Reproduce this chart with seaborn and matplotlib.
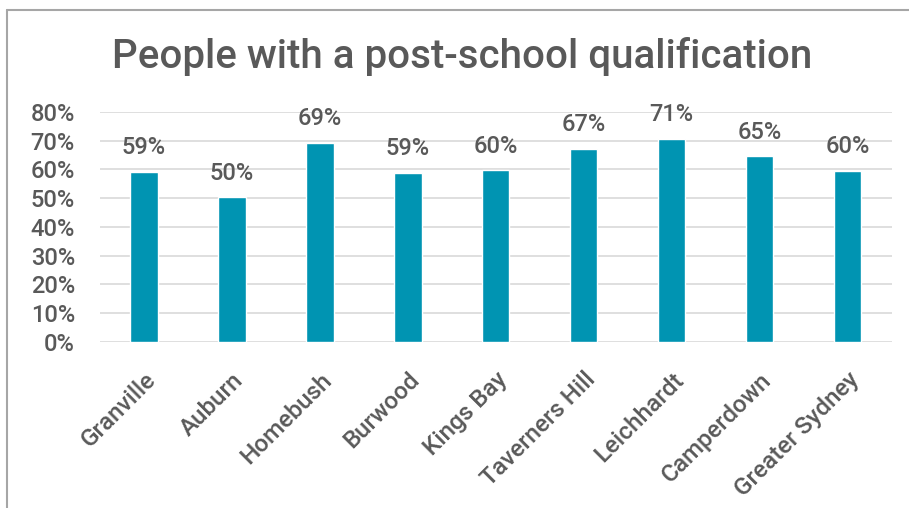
import matplotlib
matplotlib.use("Agg")
import matplotlib.pyplot as plt
from matplotlib.lines import Line2D
import seaborn as sns
import pandas as pd

# data
suburbs = ["Granville", "Auburn", "Homebush", "Burwood", "Kings Bay",
           "Taverners Hill", "Leichhardt", "Camperdown", "Greater Sydney"]
share = [0.592, 0.503, 0.692, 0.588, 0.596, 0.671, 0.706, 0.646, 0.595]

TEXT = "#595959"
BAR = "#0094B2"

sns.set_theme(style="white")
plt.rcParams["font.family"] = ["Roboto", "DejaVu Sans"]
plt.rcParams["font.weight"] = 500

df = pd.DataFrame({"suburb": suburbs, "share": share})

fig = plt.figure(figsize=(9.09, 5.08), dpi=100)
ax = fig.add_axes([0.110, 0.327, 0.871, 0.453])

sns.barplot(data=df, x="suburb", y="share", color=BAR, width=0.31,
            saturation=1, ax=ax)

ax.set_ylim(0, 0.8)
ax.set_xlim(-0.5, len(suburbs) - 0.5)
ax.set_yticks([i / 10 for i in range(9)])
ax.set_yticklabels([f"{i * 10}%" for i in range(9)], fontsize=17, color=TEXT)
ax.yaxis.grid(True, color="#D9D9D9", lw=1.2)
ax.set_axisbelow(True)
ax.tick_params(axis="y", length=0, pad=18)
ax.tick_params(axis="x", length=0, pad=19)
ax.set_xlabel("")
ax.set_ylabel("")
for s in ax.spines.values():
    s.set_visible(False)

ax.set_xticks(range(len(suburbs)))
ax.set_xticklabels(suburbs, rotation=45, ha="right", rotation_mode="anchor",
                   fontsize=17.5, color=TEXT)

for i, v in enumerate(share):
    ax.annotate(f"{round(v * 100)}%", (i, v), xytext=(0, 9),
                textcoords="offset points", ha="center", va="bottom",
                fontsize=17, color=TEXT)

fig.text(0.508, 0.888, "People with a post-school qualification",
         ha="center", va="center", fontsize=29, color=TEXT)

# chart frame (left and top edges)
fig.add_artist(Line2D([7 / 909, 7 / 909], [0, 1 - 10 / 508], color="#A6A6A6", lw=1.5))
fig.add_artist(Line2D([7 / 909, 1], [1 - 10 / 508, 1 - 10 / 508], color="#A6A6A6", lw=1.5))

fig.savefig("out.png", dpi=100)
